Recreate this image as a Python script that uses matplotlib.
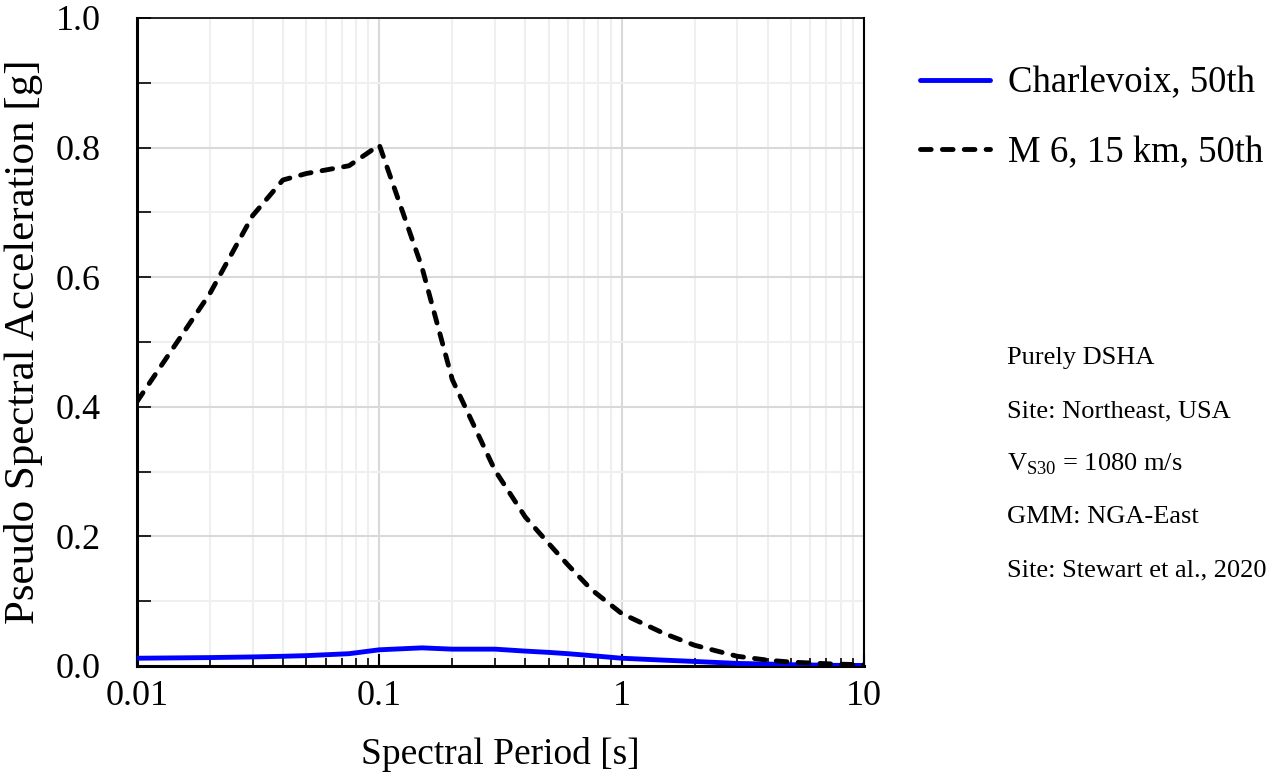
import matplotlib
matplotlib.use("Agg")
import matplotlib.pyplot as plt
from matplotlib.ticker import MultipleLocator, LogLocator, FixedLocator

plt.rcParams['font.family'] = ['Liberation Serif', 'DejaVu Serif']
plt.rcParams['mathtext.fontset'] = 'custom'
plt.rcParams['mathtext.rm'] = 'Liberation Serif'

# Spectral periods [s]
periods = [0.01, 0.02, 0.03, 0.04, 0.05, 0.075, 0.1, 0.15, 0.2, 0.3, 0.4, 0.5,
           0.6, 0.75, 1.0, 1.5, 2.0, 3.0, 4.0, 5.0, 7.5, 10.0]

# Charlevoix, 50th percentile PSA [g]
charlevoix = [0.012, 0.013, 0.014, 0.015, 0.016, 0.019, 0.025, 0.028, 0.026, 0.026, 0.023, 0.021,
              0.019, 0.016, 0.012, 0.009, 0.007, 0.004, 0.003, 0.002, 0.001, 0.0008]

# M 6, 15 km, 50th percentile PSA [g]
m6_15km = [0.408, 0.575, 0.695, 0.750, 0.760, 0.772, 0.804, 0.615, 0.442, 0.302, 0.230, 0.189,
           0.156, 0.118, 0.081, 0.050, 0.032, 0.015, 0.009, 0.006, 0.003, 0.002]

labels = ["Charlevoix, 50th", "M 6, 15 km, 50th"]
notes = ["Purely DSHA", "Site: Northeast, USA", r"V$_{\mathrm{S30}}$ = 1080 m/s",
         "GMM: NGA-East", "Site: Stewart et al., 2020"]

W, H = 1271, 781

fig = plt.figure(figsize=(W / 100, H / 100), dpi=100)
ax = fig.add_axes([137 / W, 1 - 666 / H, (864 - 137) / W, (666 - 18) / H])

ax.plot(periods, charlevoix, color='#0000ff', lw=3.5, solid_capstyle='round', label=labels[0], zorder=3)
ax.plot(periods, m6_15km, color='black', lw=3.5, dashes=(2.2, 2.3), dash_capstyle='round',
        label=labels[1], zorder=4)

ax.set_xscale('log')
ax.set_xlim(0.01, 10)
ax.set_ylim(0, 1.0)
ax.xaxis.set_major_locator(FixedLocator([0.01, 0.1, 1, 10]))
ax.set_xticklabels(['0.01', '0.1', '1', '10'])
ax.xaxis.set_minor_locator(LogLocator(base=10, subs=range(2, 10), numticks=20))
ax.yaxis.set_major_locator(MultipleLocator(0.2))
ax.yaxis.set_minor_locator(MultipleLocator(0.1))
ax.yaxis.set_major_formatter(plt.FuncFormatter(lambda v, p: f"{v:.1f}"))

ax.grid(which='major', color='#d9d9d9', lw=1.5, zorder=0)
ax.grid(which='minor', color='#efefef', lw=1.5, zorder=0)
ax.set_axisbelow(True)

ax.tick_params(axis='both', which='both', direction='in', labelsize=26, top=False, right=False)
ax.tick_params(axis='x', which='major', length=9, width=1.5, pad=10)
ax.tick_params(axis='x', which='minor', length=6, width=1.2)
ax.tick_params(axis='y', which='both', length=10, width=1.2, pad=26)
ax.tick_params(axis='x', which='minor', labelbottom=False)

for side in ['left', 'bottom']:
    ax.spines[side].set_linewidth(2.2)
ax.spines['right'].set_linewidth(1.5)
ax.spines['top'].set_linewidth(1.2)

ax.set_xlabel("Spectral Period [s]", fontsize=27, labelpad=17)
ax.set_ylabel("Pseudo Spectral Acceleration [g]", fontsize=31, labelpad=9)

fig.legend(loc='upper left', bbox_to_anchor=(920 / W, 1 - 66 / H), frameon=False, fontsize=26.5,
           handlelength=1.9, handletextpad=0.5, labelspacing=0.95, borderpad=0, borderaxespad=0)

for i, txt in enumerate(notes):
    fig.text(1007 / W, 1 - (358 + 53 * i) / H, txt, fontsize=19, va='center', ha='left')

fig.savefig("out.png", dpi=100)
